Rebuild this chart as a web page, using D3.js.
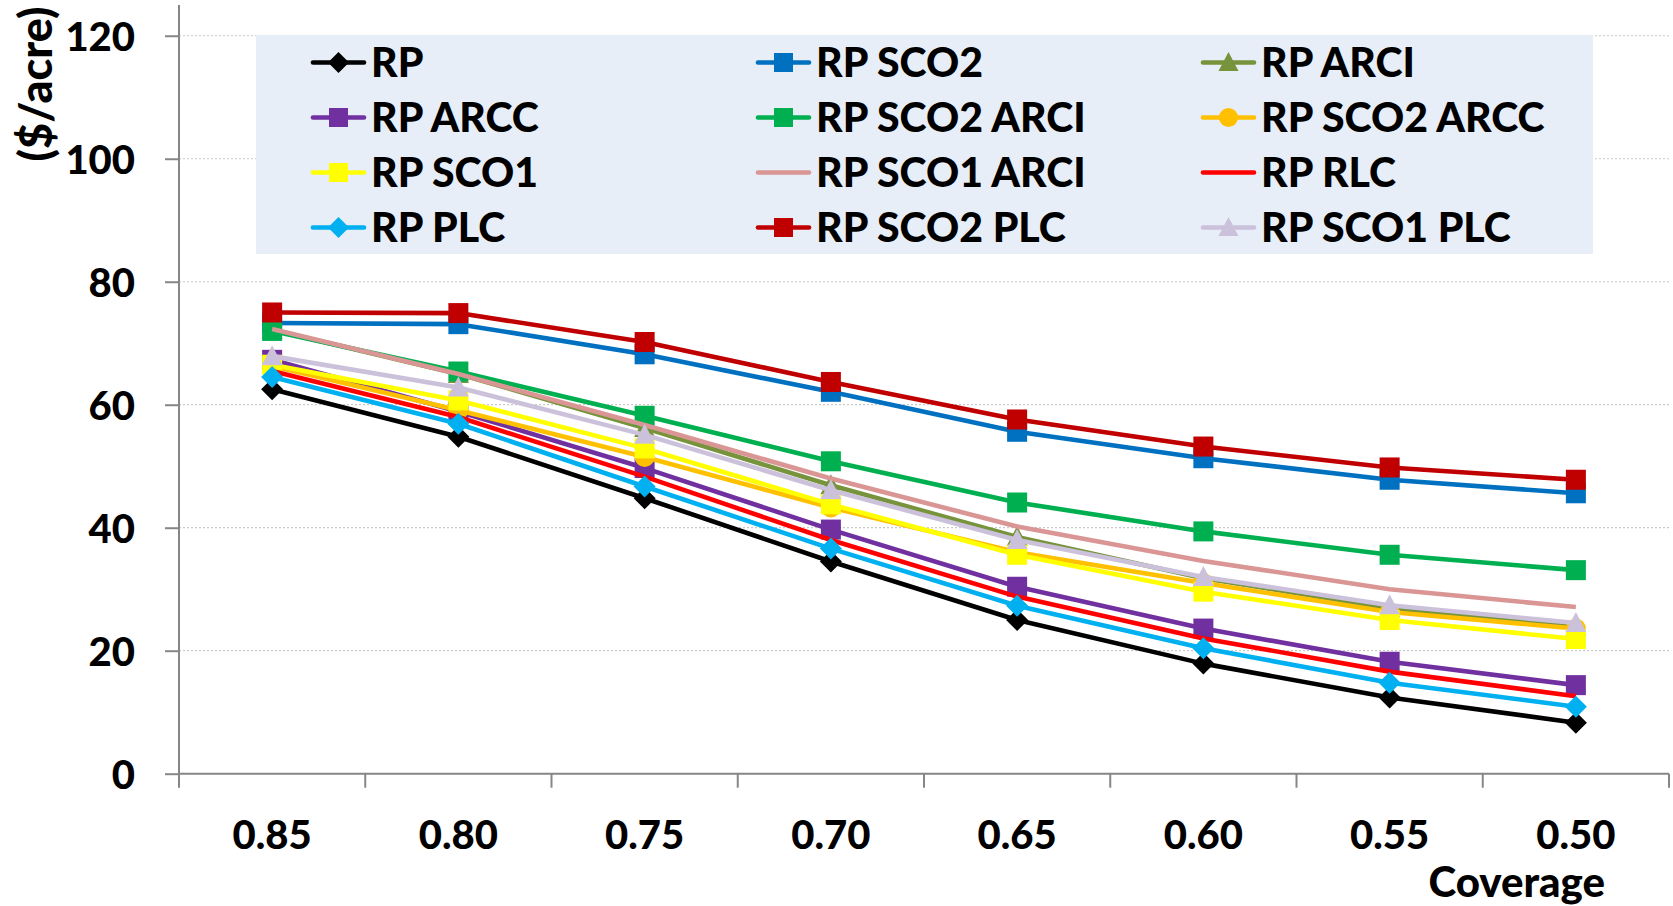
<!DOCTYPE html>
<html><head><meta charset="utf-8">
<script src="https://cdn.jsdelivr.net/npm/d3@7"></script>
<style>
html,body{margin:0;padding:0;background:#fff;}
svg text{font-family:Lato, "Open Sans", sans-serif;font-weight:900;fill:#000;}
</style></head>
<body><svg id="c" width="1673" height="906"></svg>
<script>
const categories = ["0.85","0.80","0.75","0.70","0.65","0.60","0.55","0.50"];
const yTicks = [0,20,40,60,80,100,120];

const RP           = [62.5, 54.8, 44.8, 34.5, 25.0, 17.9, 12.4, 8.3];
const RP_SCO2      = [73.3, 73.1, 68.2, 62.1, 55.6, 51.3, 47.8, 45.6];
const RP_ARCI      = [72.2, 65.0, 56.2, 46.9, 38.5, 31.8, 26.9, 23.9];
const RP_ARCC      = [67.3, 58.9, 49.7, 39.7, 30.4, 23.6, 18.2, 14.4];
const RP_SCO2_ARCI = [72.0, 65.4, 58.2, 50.8, 44.1, 39.4, 35.6, 33.1];
const RP_SCO2_ARCC = [66.3, 59.1, 51.5, 43.3, 36.0, 31.0, 26.3, 23.6];
const RP_SCO1      = [66.5, 60.7, 52.9, 43.8, 35.6, 29.6, 25.0, 21.9];
const RP_SCO1_ARCI = [72.3, 65.0, 56.7, 48.0, 40.2, 34.6, 30.0, 27.1];
const RP_RLC       = [65.5, 58.0, 48.3, 38.0, 28.8, 22.0, 16.6, 12.6];
const RP_PLC       = [64.5, 56.9, 46.7, 36.6, 27.3, 20.4, 14.8, 10.9];
const RP_SCO2_PLC  = [75.0, 74.9, 70.2, 63.7, 57.6, 53.2, 49.8, 47.8];
const RP_SCO1_PLC  = [67.9, 62.8, 55.1, 46.1, 38.0, 32.0, 27.4, 24.5];

const seriesNames = ["RP","RP SCO2","RP ARCI","RP ARCC","RP SCO2 ARCI","RP SCO2 ARCC",
  "RP SCO1","RP SCO1 ARCI","RP RLC","RP PLC","RP SCO2 PLC","RP SCO1 PLC"];
const seriesValues = [RP, RP_SCO2, RP_ARCI, RP_ARCC, RP_SCO2_ARCI, RP_SCO2_ARCC,
  RP_SCO1, RP_SCO1_ARCI, RP_RLC, RP_PLC, RP_SCO2_PLC, RP_SCO1_PLC];
const seriesColors = ["#000000","#0070C0","#77933C","#7030A0","#00B050","#FFC000",
  "#FFFF00","#D99694","#FF0000","#00B0F0","#C00000","#CCC1DA"];
const seriesMarkers = ["diamond","square","triangle","square","square","circle",
  "square","none","none","diamond","square","triangle"];

const series = seriesNames.map((n,i)=>({name:n, values:seriesValues[i], color:seriesColors[i], marker:seriesMarkers[i]}));

const svg = d3.select("#c");
const L = 179, R = 1669, T = 5, B = 773.7;
const x = d3.scaleBand().domain(categories).range([L, R]).padding(0);
const y = d3.scaleLinear().domain([0,125]).range([B, T]);

// gridlines
svg.append("g").selectAll("line").data(yTicks.filter(d=>d>0)).join("line")
  .attr("x1", L).attr("x2", R).attr("y1", d=>y(d)).attr("y2", d=>y(d))
  .attr("stroke", "#c9c9c9").attr("stroke-width", 1.2).attr("stroke-dasharray", "2,2");

// legend background
const leg = svg.append("g");
leg.append("rect").attr("x", 256).attr("y", 35).attr("width", 1337).attr("height", 219).attr("fill", "#E7EEF8");

// y axis
const yAxis = svg.append("g").attr("transform", `translate(${L},0)`)
  .call(d3.axisLeft(y).tickValues(yTicks).tickSize(14).tickPadding(30));
yAxis.select(".domain").attr("stroke", "#868686").attr("stroke-width", 2).attr("d", `M-0,${T}V${B}`);
yAxis.selectAll(".tick line").attr("stroke", "#868686").attr("stroke-width", 2);
yAxis.selectAll(".tick text").attr("font-size", 40).attr("font-family", "Lato").attr("font-weight", "900").attr("fill","#000").attr("dy","0.36em");

// x axis
const xAxis = svg.append("g").attr("transform", `translate(0,${B})`)
  .call(d3.axisBottom(x).tickSize(0).tickPadding(47));
xAxis.select(".domain").attr("stroke", "#868686").attr("stroke-width", 2).attr("d", `M${L},0H${R}`);
xAxis.selectAll(".tick text").attr("font-size", 40).attr("font-family", "Lato").attr("font-weight", "900").attr("fill","#000");
xAxis.append("g").selectAll("line").data(d3.range(categories.length+1)).join("line")
  .attr("x1", i=>L + i*x.step()).attr("x2", i=>L + i*x.step()).attr("y1", 0).attr("y2", 14)
  .attr("stroke", "#868686").attr("stroke-width", 2);

// axis titles
svg.append("text").attr("transform", "translate(52,84) rotate(-90)").attr("text-anchor","middle")
  .attr("font-size", 45).text("($/acre)");
svg.append("text").attr("x", 1605).attr("y", 897).attr("text-anchor","end")
  .attr("font-size", 42).text("Coverage");

function drawMarker(g, type, cx, cy, color, s) {
  const h = s/2;
  if (type === "square") g.append("rect").attr("x", cx-h).attr("y", cy-h).attr("width", s).attr("height", s).attr("fill", color);
  else if (type === "diamond") g.append("path").attr("d", `M${cx},${cy-h-1}L${cx+h+1},${cy}L${cx},${cy+h+1}L${cx-h-1},${cy}Z`).attr("fill", color);
  else if (type === "triangle") g.append("path").attr("d", `M${cx},${cy-h-1}L${cx+h+0.5},${cy+h-1}L${cx-h-0.5},${cy+h-1}Z`).attr("fill", color);
  else if (type === "circle") g.append("circle").attr("cx", cx).attr("cy", cy).attr("r", h).attr("fill", color);
}

const line = d3.line().x((d,i)=>x(categories[i]) + x.bandwidth()/2).y(d=>y(d));
const plot = svg.append("g");
series.forEach(s => {
  const g = plot.append("g");
  g.append("path").attr("d", line(s.values)).attr("fill","none").attr("stroke", s.color)
    .attr("stroke-width", 4.6).attr("stroke-linejoin","round");
  if (s.marker !== "none") s.values.forEach((v,i)=>drawMarker(g, s.marker, x(categories[i]) + x.bandwidth()/2, y(v), s.color, 20));
});

// legend entries
const colX = [311, 756, 1201], rowY = [62.5, 117.5, 172.5, 227.5];
series.forEach((s, i) => {
  const c = i % 3, r = Math.floor(i / 3);
  const g = leg.append("g");
  const x0 = colX[c], yy = rowY[r];
  g.append("line").attr("x1", x0+2).attr("x2", x0+53).attr("y1", yy).attr("y2", yy)
    .attr("stroke", s.color).attr("stroke-width", 4.6).attr("stroke-linecap","round");
  if (s.marker !== "none") drawMarker(g, s.marker, x0+27.5, yy, s.color, 19);
  g.append("text").attr("x", x0+60).attr("y", yy+14.5).attr("font-size", 41).text(s.name);
});
</script></body></html>
